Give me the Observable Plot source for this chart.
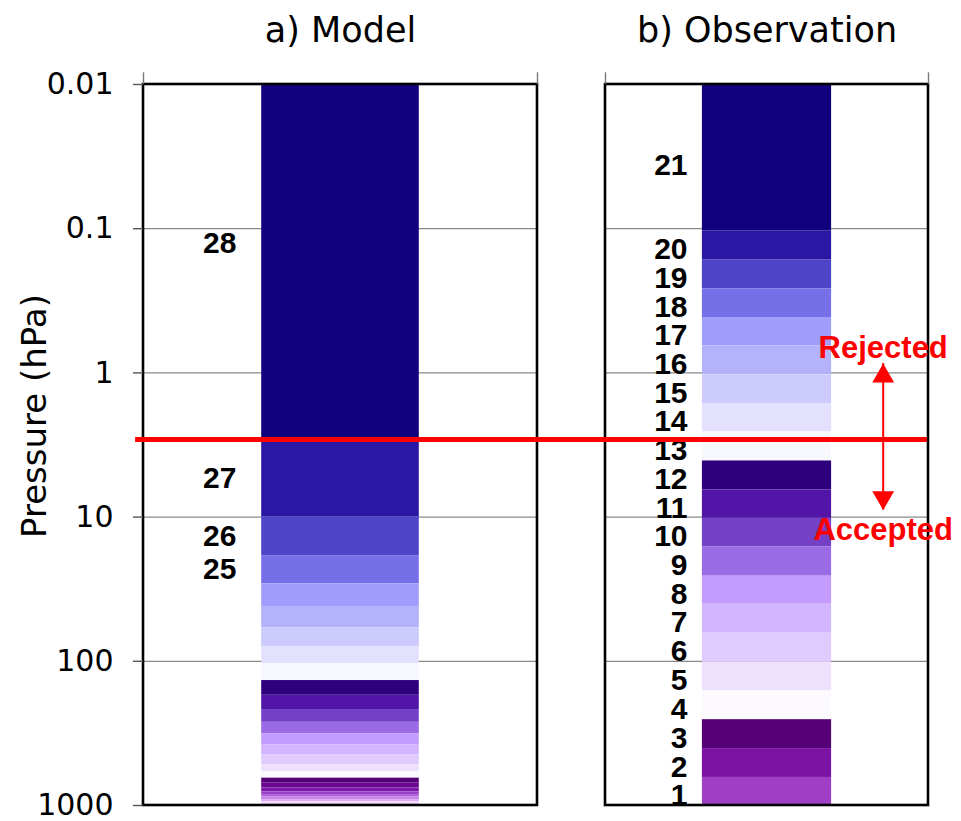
<!DOCTYPE html>
<html>
<head>
<meta charset="utf-8">
<script src="https://cdn.jsdelivr.net/npm/d3@7"></script>
<script src="https://cdn.jsdelivr.net/npm/@observablehq/plot@0.6"></script>
<style>
  html, body { margin: 0; padding: 0; background: #fff; }
  #chart svg { display: block; }
</style>
</head>
<body>
<div id="chart"></div>
<script>
// ---------------- DATA ----------------
// Model levels (top to bottom) and their pressure boundaries (hPa)
const modelLevels = [28,27,26,25,24,23,22,21,20,19,18,17,16,15,14,13,12,11,10,9,8,7,6,5,4,3,2,1];
const modelBounds = [0.01, 2.9, 10, 18.5, 29, 42.2, 58.7, 79.6, 104, 136, 172, 216, 265, 318, 379, 447, 521, 581, 646, 700, 755, 805, 840, 875, 910, 945, 975, 990, 1000];
const modelColors = ["#12007e","#2a17a3","#4d44c7","#7670e8","#a19dfc","#b5b2fc","#cdcbfd","#e3e1fe","#f8f8ff",
                     "#2e007e","#5215a8","#7441c6","#9b6be6","#c49cff","#d3b4fe","#e0cbfe","#eee1fe","#fcf9ff",
                     "#560078","#6a0890","#7e18a8","#9a40c8","#b060d8","#c888e8","#dcaaf4","#f0dcfc","#e4c4f6","#a040c0"];
const modelLabelLevels = [28, 27, 26, 25];
const modelLabelP = [0.126, 5.4, 13.6, 23.2];

// Observation layers (top to bottom) and their pressure boundaries (hPa)
const obsLevels = [21,20,19,18,17,16,15,14,13,12,11,10,9,8,7,6,5,4,3,2,1];
const obsBounds = [0.01, 0.104, 0.164, 0.261, 0.413, 0.65, 1.03, 1.63, 2.57, 4.08, 6.49, 10.2, 16.1, 25.7, 40.2, 63.9, 101, 160, 254, 403, 639, 1000];
const obsColors = ["#12007e","#2a17a3","#4d44c7","#7670e8","#a19dfc","#b5b2fc","#cdcbfd","#e3e1fe","#f8f8ff",
                   "#2e007e","#5215a8","#7441c6","#9b6be6","#c49cff","#d3b4fe","#e0cbfe","#eee1fe","#fcf9ff",
                   "#560078","#7b12a2","#9f3fc6"];
const obsLabelTopP = 0.034; // label of the top layer (21)

const panelTitles = ["a) Model", "b) Observation"];
const yTicks = [0.01, 0.1, 1, 10, 100, 1000];
const gridP = [0.1, 1, 10, 100];

const rejectP = 2.9;             // cut-off pressure (red line)
const arrowRange = [0.861, 8.93]; // arrow tip to tip (hPa)
const arrowHeadP = [1.054, 7.31];
const rejectedLabelP = 0.675;
const acceptedLabelP = 12.4;

// ---------------- LAYOUT ----------------
const panels = [
  {title: panelTitles[0], x0: 0, x1: 1, labelFrac: 0.236},
  {title: panelTitles[1], x0: 1.1726, x1: 1.9924, labelFrac: 0.254}
];
const barFrac = [0.3, 0.7];
const px = (pn, f) => pn.x0 + f * (pn.x1 - pn.x0);
const arrowX = 1.8774;

const bands = [];
modelLevels.forEach((lev, i) => bands.push({x1: px(panels[0], barFrac[0]), x2: px(panels[0], barFrac[1]), top: modelBounds[i], bottom: modelBounds[i + 1], color: modelColors[i]}));
obsLevels.forEach((lev, i) => bands.push({x1: px(panels[1], barFrac[0]), x2: px(panels[1], barFrac[1]), top: obsBounds[i], bottom: obsBounds[i + 1], color: obsColors[i]}));

const labels = [];
modelLabelLevels.forEach((lev, i) => labels.push({x: px(panels[0], panels[0].labelFrac), p: modelLabelP[i], text: String(lev), dy: 0}));
obsLevels.forEach((lev, i) => labels.push({
  x: px(panels[1], panels[1].labelFrac),
  p: i === 0 ? obsLabelTopP : Math.sqrt(obsBounds[i] * obsBounds[i + 1]),
  text: String(lev), dy: 4
}));

const grid = panels.flatMap(pn => gridP.map(p => ({p, x1: pn.x0, x2: pn.x1})));
const edges = panels.flatMap(pn => [pn.x0, pn.x1]);

const fontText = "DejaVu Sans, Verdana, sans-serif";
const fontBold = "Liberation Sans, Arial, Helvetica, sans-serif";

const chart = Plot.plot({
  width: 961,
  height: 821,
  marginTop: 84,
  marginBottom: 16,
  marginLeft: 143,
  marginRight: 33,
  style: {fontFamily: fontText, background: "white", overflow: "visible"},
  x: {domain: [0, 1.9924], axis: null},
  y: {type: "log", domain: [0.01, 1000], reverse: true},
  marks: [
    // grid lines
    Plot.ruleY(grid, {y: "p", x1: "x1", x2: "x2", stroke: "#8a8a8a", strokeWidth: 1.3}),
    // bands
    Plot.rect(bands, {x1: "x1", x2: "x2", y1: "top", y2: "bottom", fill: "color"}),
    // panel frames
    Plot.rect(panels, {x1: "x0", x2: "x1", y1: () => 0.01, y2: () => 1000, fill: "none", stroke: "black", strokeWidth: 2.6}),
    // small ticks above the frames at the panel edges
    Plot.ruleX(edges, {x: d => d, y1: () => 0.01, y2: () => 0.0083, stroke: "#777", strokeWidth: 1.4}),
    // y axis
    Plot.axisY({anchor: "left", ticks: yTicks, tickFormat: d => String(d), tickSize: 10, tickPadding: 20,
                fontSize: 30, fontFamily: fontText, stroke: "#555", strokeWidth: 1.4, label: null}),
    Plot.text(["Pressure (hPa)"], {frameAnchor: "left", textAnchor: "middle", lineAnchor: "middle", dx: -108, dy: -29, rotate: -90, fontSize: 34, fontFamily: fontText, fill: "black"}),
    // panel titles
    Plot.text(panels, {x: d => (d.x0 + d.x1) / 2, text: "title", frameAnchor: "top", lineAnchor: "middle", dy: -54, fontSize: 35, fontFamily: fontText, fill: "black"}),
    // level numbers
    Plot.text(labels.filter(d => d.dy === 0), {x: "x", y: "p", text: "text", textAnchor: "end", fontSize: 30, fontWeight: "bold", fontFamily: fontBold, fill: "black"}),
    Plot.text(labels.filter(d => d.dy !== 0), {x: "x", y: "p", text: "text", dy: 4, textAnchor: "end", fontSize: 30, fontWeight: "bold", fontFamily: fontBold, fill: "black"}),
    // rejection line
    Plot.ruleY([rejectP], {x1: () => -0.02, x2: () => 1.99, stroke: "#ff0000", strokeWidth: 5}),
    // double arrow
    Plot.ruleX([arrowX], {y1: () => arrowRange[0], y2: () => arrowRange[1], stroke: "#ff0000", strokeWidth: 2}),
    Plot.dot([{p: arrowHeadP[0], rot: 0}, {p: arrowHeadP[1], rot: 180}], {x: () => arrowX, y: "p", symbol: "triangle", r: 8.1, fill: "#ff0000", rotate: "rot"}),
    Plot.text([{p: rejectedLabelP, t: "Rejected"}, {p: acceptedLabelP, t: "Accepted"}], {x: () => arrowX, y: "p", text: "t", fontSize: 31, fontWeight: "bold", fontFamily: fontBold, fill: "#ff0000"})
  ]
});
document.getElementById("chart").appendChild(chart);
</script>
</body>
</html>
